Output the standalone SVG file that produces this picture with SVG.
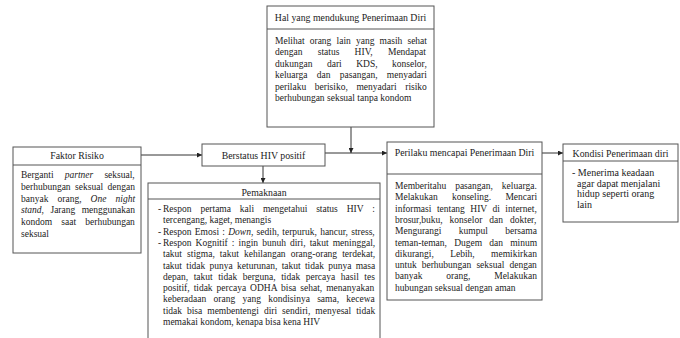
<svg xmlns="http://www.w3.org/2000/svg" width="680" height="338" viewBox="0 0 680 338">
<style>
.box{fill:#fff;stroke:#555;stroke-width:1}
.sep{stroke:#555;stroke-width:1}
.t{font-family:"Liberation Serif","Times New Roman",serif;font-size:9.5px;fill:#222}
.ttl{font-family:"Liberation Serif","Times New Roman",serif;font-size:9.8px;fill:#222;text-anchor:middle}
.con{stroke:#333;stroke-width:1;fill:none}
.i{font-style:italic}
</style>
<defs>
<marker id="ah" viewBox="0 0 10 10" refX="10" refY="5" markerWidth="5" markerHeight="5" orient="auto" markerUnits="userSpaceOnUse">
<path d="M0,0 L10,5 L0,10 z" fill="#222"/>
</marker>
</defs>
<rect width="680" height="338" fill="#fff"/>

<g id="connectors">
<line class="con" x1="141" y1="155" x2="202" y2="155" marker-end="url(#ah)"/>
<line class="con" x1="325" y1="153" x2="387" y2="153" marker-end="url(#ah)"/>
<line class="con" x1="351" y1="127" x2="351" y2="153" marker-end="url(#ah)"/>
<line class="con" x1="263" y1="166" x2="263" y2="183" marker-end="url(#ah)"/>
<line class="con" x1="542" y1="153" x2="563" y2="153" marker-end="url(#ah)"/>
</g>

<g id="pendukung">
<rect class="box" x="267" y="6" width="167" height="121"/>
<line class="sep" x1="267" y1="29" x2="434" y2="29"/>
<text class="ttl" x="350.5" y="21">Hal yang mendukung Penerimaan Diri</text>
<text class="t" x="275" y="43.5" style="word-spacing:2.8px">Melihat orang lain yang masih sehat</text>
<text class="t" x="275" y="55" style="word-spacing:12.9px">dengan status HIV, Mendapat</text>
<text class="t" x="275" y="66.5" style="word-spacing:12.1px">dukungan dari KDS, konselor,</text>
<text class="t" x="275" y="78" style="word-spacing:6.9px">keluarga dan pasangan, menyadari</text>
<text class="t" x="275" y="89.5" style="word-spacing:6.3px">perilaku berisiko, menyadari risiko</text>
<text class="t" x="275" y="101">berhubungan seksual tanpa kondom</text>
</g>

<g id="faktor">
<rect class="box" x="13" y="147" width="128" height="106"/>
<line class="sep" x1="13" y1="165" x2="141" y2="165"/>
<text class="ttl" x="77" y="159">Faktor Risiko</text>
<text class="t" x="21" y="178" style="word-spacing:8.8px">Berganti <tspan class="i">partner</tspan> seksual,</text>
<text class="t" x="21" y="189.8" style="word-spacing:2.1px">berhubungan seksual dengan</text>
<text class="t" x="21" y="201.6" style="word-spacing:6.7px">banyak orang, <tspan class="i">One night</tspan></text>
<text class="t" x="21" y="213.4" style="word-spacing:4.1px"><tspan class="i">stand</tspan>, Jarang menggunakan</text>
<text class="t" x="21" y="225.2" style="word-spacing:6.8px">kondom saat berhubungan</text>
<text class="t" x="21" y="237">seksual</text>
</g>

<g id="berstatus">
<rect class="box" x="202" y="144" width="123" height="22"/>
<text class="ttl" x="263.5" y="158.5">Berstatus HIV positif</text>
</g>

<g id="pemaknaan">
<rect class="box" x="148" y="183" width="232" height="160"/>
<line class="sep" x1="148" y1="199" x2="380" y2="199"/>
<text class="ttl" x="264" y="195.5">Pemaknaan</text>
<text class="t" x="158" y="212">-</text>
<text class="t" x="163" y="212" style="word-spacing:6.5px">Respon pertama kali mengetahui status HIV :</text>
<text class="t" x="163" y="223.3">tercengang, kaget, menangis</text>
<text class="t" x="158" y="234.6">-</text>
<text class="t" x="163" y="234.6" style="word-spacing:0.9px">Respon Emosi : <tspan class="i">Down</tspan>, sedih, terpuruk, hancur, stress,</text>
<text class="t" x="158" y="245.9">-</text>
<text class="t" x="163" y="245.9" style="word-spacing:1.7px">Respon Kognitif : ingin bunuh diri, takut meninggal,</text>
<text class="t" x="163" y="257.2" style="word-spacing:2.7px">takut stigma, takut kehilangan orang-orang terdekat,</text>
<text class="t" x="163" y="268.5" style="word-spacing:1.9px">takut tidak punya keturunan, takut tidak punya masa</text>
<text class="t" x="163" y="279.8" style="word-spacing:3.2px">depan, takut tidak berguna, tidak percaya hasil tes</text>
<text class="t" x="163" y="291.1" style="word-spacing:1.6px">positif, tidak percaya ODHA bisa sehat, menanyakan</text>
<text class="t" x="163" y="302.4" style="word-spacing:4.9px">keberadaan orang yang kondisinya sama, kecewa</text>
<text class="t" x="163" y="313.7" style="word-spacing:2.6px">tidak bisa membentengi diri sendiri, menyesal tidak</text>
<text class="t" x="163" y="325">memakai kondom, kenapa bisa kena HIV</text>
</g>

<g id="perilaku">
<rect class="box" x="387" y="142" width="155" height="158"/>
<line class="sep" x1="387" y1="174" x2="542" y2="174"/>
<text class="ttl" x="464.5" y="156">Perilaku mencapai Penerimaan Diri</text>
<text class="t" x="395" y="189" style="word-spacing:6.6px">Memberitahu pasangan, keluarga.</text>
<text class="t" x="395" y="200.3" style="word-spacing:11.8px">Melakukan konseling. Mencari</text>
<text class="t" x="395" y="211.6" style="word-spacing:3.1px">informasi tentang HIV di internet,</text>
<text class="t" x="395" y="222.9" style="word-spacing:4.6px">brosur,buku, konselor dan dokter,</text>
<text class="t" x="395" y="234.2" style="word-spacing:15px">Mengurangi kumpul bersama</text>
<text class="t" x="395" y="245.5" style="word-spacing:4.8px">teman-teman, Dugem dan minum</text>
<text class="t" x="395" y="256.8" style="word-spacing:14px">dikurangi, Lebih, memikirkan</text>
<text class="t" x="395" y="268.1" style="word-spacing:2.7px">untuk berhubungan seksual dengan</text>
<text class="t" x="395" y="279.4" style="word-spacing:21.5px">banyak orang, Melakukan</text>
<text class="t" x="395" y="290.7">hubungan seksual dengan aman</text>
</g>

<g id="kondisi">
<rect class="box" x="563" y="144" width="115" height="78"/>
<line class="sep" x1="563" y1="161" x2="678" y2="161"/>
<text class="ttl" x="620.5" y="156.5">Kondisi Penerimaan diri</text>
<text class="t" x="572" y="176" style="font-size:10px">- Menerima keadaan</text>
<text class="t" x="577" y="186.7" style="font-size:10px">agar dapat menjalani</text>
<text class="t" x="577" y="197.4" style="font-size:10px">hidup seperti orang</text>
<text class="t" x="577" y="208" style="font-size:10px">lain</text>
</g>
</svg>
